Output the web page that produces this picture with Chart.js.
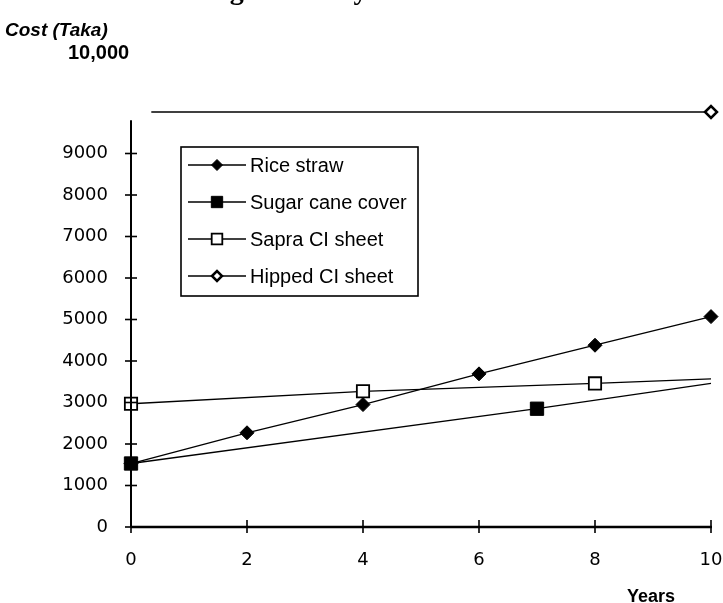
<!DOCTYPE html>
<html><head><meta charset="utf-8">
<script src="https://cdn.jsdelivr.net/npm/chart.js@4/dist/chart.umd.min.js"></script>
<style>html,body{margin:0;padding:0;background:#fff}#wrap{position:relative;width:723px;height:603px}</style>
</head><body><div id="wrap"><canvas id="c" width="723" height="603"></canvas></div>
<script>
// ---- data ----
const yearTicks = [0, 2, 4, 6, 8, 10];
const costTicks = [0, 1000, 2000, 3000, 4000, 5000, 6000, 7000, 8000, 9000];
const seriesNames = ['Rice straw', 'Sugar cane cover', 'Sapra CI sheet', 'Hipped CI sheet'];
const riceYears = [0, 2, 4, 6, 8, 10];
const riceCost = [1530, 2270, 2950, 3690, 4380, 5070];
const sugarYears = [0, 7, 10];
const sugarCost = [1530, 2850, 3460];
const sapraYears = [0, 4, 8, 10];
const sapraCost = [2970, 3270, 3460, 3570];
const hippedYears = [0.35, 10];
const hippedCost = [10000, 10000];
const titleText = 'Fig. 9. Life cycle cost of roofs';
const yTitle = 'Cost (Taka)';
const yTopLabel = '10,000';
const xTitle = 'Years';

const pts = (xs, ys) => xs.map((x, i) => ({ x: x, y: ys[i] }));
const FONT = '"Liberation Sans", Arial, sans-serif';
const TICKFONT = '"DejaVu Sans", Verdana, sans-serif';

const datasets = [
  { label: seriesNames[0], data: pts(riceYears, riceCost), pointStyle: 'rectRot',
    pointRadius: 7, backgroundColor: '#000', pointBorderWidth: 1, legendRadius: 5.5 },
  { label: seriesNames[1], data: pts(sugarYears, sugarCost), pointStyle: 'rect',
    pointRadius: [9.4, 9.4, 0], backgroundColor: '#000', pointBorderWidth: 1, legendRadius: 8 },
  { label: seriesNames[2], data: pts(sapraYears, sapraCost), pointStyle: 'rect',
    pointRadius: [8.7, 8.7, 8.7, 0], backgroundColor: '#fff', pointBorderWidth: 1.8, legendRadius: 7.5 },
  { label: seriesNames[3], data: pts(hippedYears, hippedCost), pointStyle: 'rectRot',
    pointRadius: [0, 6], backgroundColor: '#fff', pointBorderWidth: 2.5, legendRadius: 5 }
].map(d => Object.assign({
  borderColor: '#000', borderWidth: 1.3, pointBorderColor: '#000',
  pointBackgroundColor: d.backgroundColor, showLine: true, tension: 0, fill: false, clip: false
}, d));

const decor = {
  id: 'decor',
  afterDatasetsDraw(chart) {
    const ctx = chart.ctx, xs = chart.scales.x, ys = chart.scales.y;
    ctx.save();
    ctx.strokeStyle = '#000';
    // axes
    const x0 = xs.getPixelForValue(0), y0 = ys.getPixelForValue(0);
    ctx.lineWidth = 2;
    ctx.beginPath(); ctx.moveTo(x0, y0); ctx.lineTo(x0, ys.getPixelForValue(9800)); ctx.stroke();
    ctx.lineWidth = 2.5;
    ctx.beginPath(); ctx.moveTo(x0, y0); ctx.lineTo(xs.getPixelForValue(10) + 1, y0); ctx.stroke();
    // cross ticks
    ctx.lineWidth = 1.6;
    costTicks.forEach(v => { const p = ys.getPixelForValue(v);
      ctx.beginPath(); ctx.moveTo(x0 - 6, p); ctx.lineTo(x0 + 6, p); ctx.stroke(); });
    yearTicks.forEach(v => { const p = xs.getPixelForValue(v);
      ctx.beginPath(); ctx.moveTo(p, y0 - 7); ctx.lineTo(p, y0 + 6); ctx.stroke(); });
    // legend
    const bx = 181, by = 147, bw = 237, bh = 149;
    ctx.fillStyle = '#fff'; ctx.fillRect(bx, by, bw, bh);
    ctx.lineWidth = 1.6; ctx.strokeRect(bx, by, bw, bh);
    chart.data.datasets.forEach((d, i) => {
      const ry = 165 + i * 37;
      ctx.lineWidth = 1.3; ctx.strokeStyle = '#000';
      ctx.beginPath(); ctx.moveTo(188, ry); ctx.lineTo(246, ry); ctx.stroke();
      ctx.fillStyle = d.pointBackgroundColor; ctx.lineWidth = d.pointBorderWidth;
      Chart.helpers.drawPoint(ctx, { pointStyle: d.pointStyle, radius: d.legendRadius,
        rotation: 0, borderWidth: d.pointBorderWidth }, 217, ry);
      ctx.fillStyle = '#000'; ctx.font = '20px ' + FONT;
      ctx.textAlign = 'left'; ctx.textBaseline = 'middle';
      ctx.fillText(d.label, 250, ry + 1);
    });
    // texts
    ctx.fillStyle = '#000';
    ctx.font = 'bold 28px "Liberation Serif", "Times New Roman", serif';
    ctx.textAlign = 'center'; ctx.textBaseline = 'alphabetic';
    ctx.fillText(titleText, 378, -1);
    ctx.font = 'italic bold 19px ' + FONT; ctx.textAlign = 'left'; ctx.textBaseline = 'middle';
    ctx.fillText(yTitle, 5, 31);
    ctx.font = 'bold 20px ' + FONT;
    ctx.fillText(yTopLabel, 68, 53);
    ctx.font = 'bold 18px ' + FONT; ctx.textAlign = 'center';
    ctx.fillText(xTitle, 651, 597);
    ctx.restore();
  }
};

new Chart(document.getElementById('c'), {
  type: 'line',
  data: { datasets: datasets },
  plugins: [decor],
  options: {
    responsive: false, animation: false,
    layout: { padding: { top: 112, right: 12, left: 0, bottom: 0 } },
    plugins: { legend: { display: false }, tooltip: { enabled: false } },
    scales: {
      x: { type: 'linear', min: 0, max: 10,
        afterBuildTicks: s => { s.ticks = yearTicks.map(v => ({ value: v })); },
        afterFit: s => { s.height = 76; s.paddingLeft = 0; s.paddingRight = 0; },
        grid: { display: false }, border: { display: false },
        ticks: { color: '#000', font: { family: TICKFONT, size: 18 }, padding: 15,
          callback: v => String(v) } },
      y: { type: 'linear', min: 0, max: 10000,
        afterBuildTicks: s => { s.ticks = costTicks.map(v => ({ value: v })); },
        afterFit: s => { s.width = 131; s.paddingTop = 0; s.paddingBottom = 0; },
        grid: { display: false }, border: { display: false },
        ticks: { color: '#000', font: { family: TICKFONT, size: 18 }, padding: 15,
          callback: v => String(v) } }
    }
  }
});
</script></body></html>
